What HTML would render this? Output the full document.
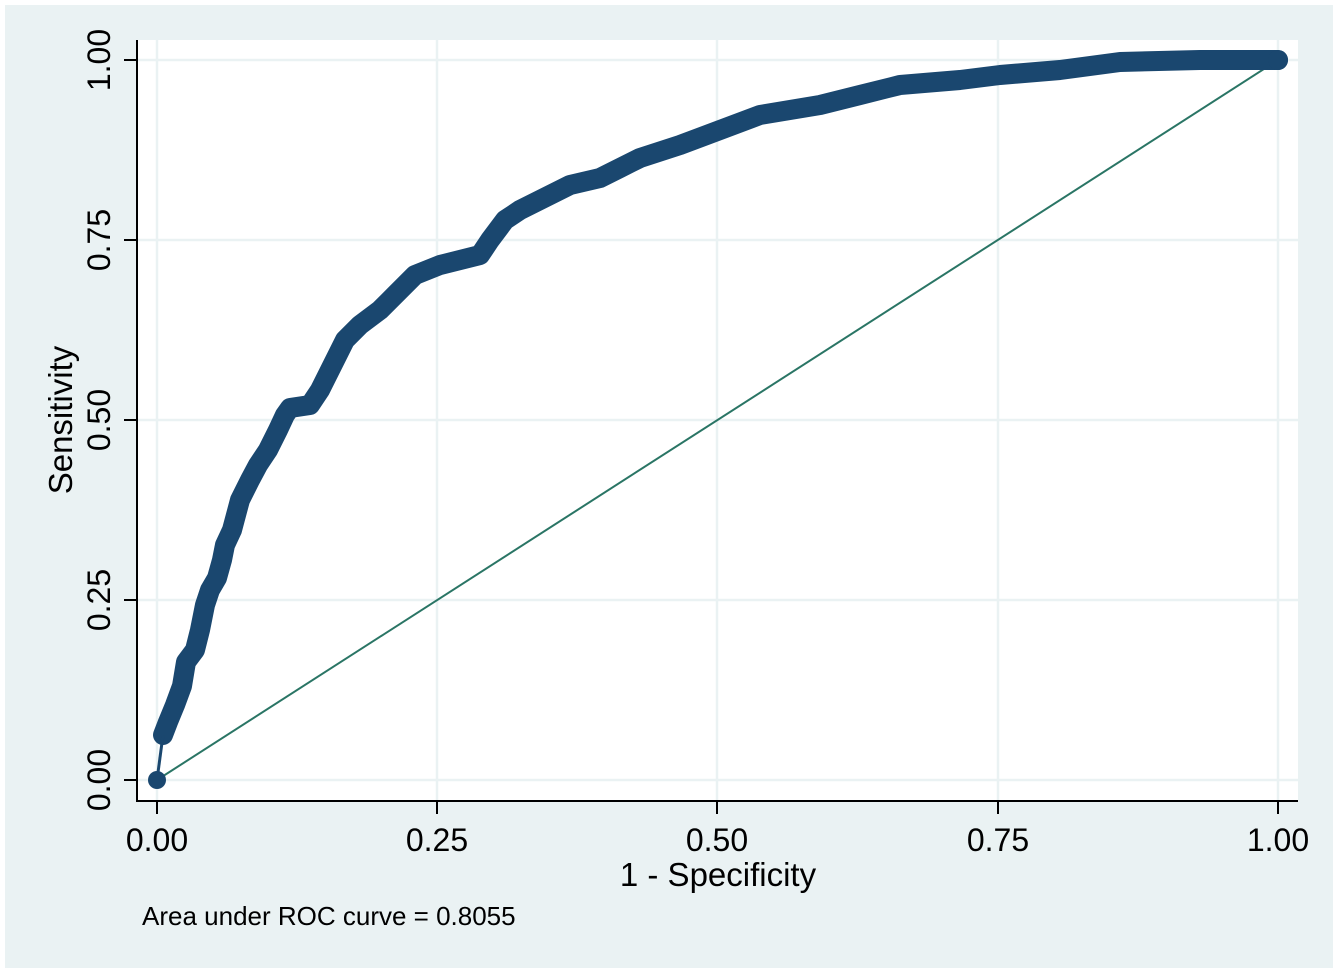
<!DOCTYPE html>
<html><head><style>body{margin:0;background:#fff}</style></head><body>
<svg width="1339" height="974" xmlns="http://www.w3.org/2000/svg" font-family="Liberation Sans, sans-serif">
<rect x="0" y="0" width="1339" height="974" fill="#fff"/>
<rect x="5" y="5" width="1328" height="963" fill="#eaf2f3"/>
<rect x="137" y="40" width="1161" height="761" fill="#fff"/>
<g stroke="#eaf2f3" stroke-width="2.5">
<line x1="137" y1="60" x2="1298" y2="60"/><line x1="137" y1="240" x2="1298" y2="240"/><line x1="137" y1="420" x2="1298" y2="420"/><line x1="137" y1="600" x2="1298" y2="600"/><line x1="137" y1="780" x2="1298" y2="780"/>
<line x1="157" y1="40" x2="157" y2="801"/><line x1="437" y1="40" x2="437" y2="801"/><line x1="717" y1="40" x2="717" y2="801"/><line x1="998" y1="40" x2="998" y2="801"/><line x1="1278" y1="40" x2="1278" y2="801"/>
</g>
<g stroke="#000" stroke-width="2">
<line x1="137" y1="40" x2="137" y2="801"/><line x1="136" y1="801" x2="1298" y2="801"/>
<line x1="124" y1="60" x2="137" y2="60"/><line x1="124" y1="240" x2="137" y2="240"/><line x1="124" y1="420" x2="137" y2="420"/><line x1="124" y1="600" x2="137" y2="600"/><line x1="124" y1="780" x2="137" y2="780"/>
<line x1="157" y1="801" x2="157" y2="814"/><line x1="437" y1="801" x2="437" y2="814"/><line x1="717" y1="801" x2="717" y2="814"/><line x1="998" y1="801" x2="998" y2="814"/><line x1="1278" y1="801" x2="1278" y2="814"/>
</g>
<line x1="157" y1="780" x2="1278" y2="60" stroke="#2a7565" stroke-width="2"/>
<polyline fill="none" stroke="#1a476f" stroke-width="20" stroke-linejoin="round" stroke-linecap="round" points="163,735 168,722 175,705 182,686 186,662 195,650 200,630 205,605 210,590 217,578 222,560 225,545 232,530 240,500 250,480 258,465 268,450 278,430 285,415 290,408 310,405 320,390 330,370 345,340 360,325 380,310 395,295 400,290 415,275 440,265 480,255 490,240 505,220 520,210 550,195 570,185 600,178 620,168 640,158 680,145 720,130 760,115 820,105 860,95 900,85 960,80 1000,75 1060,70 1120,62 1200,60 1278,60"/>
<polyline fill="none" stroke="#1a476f" stroke-width="3" points="157,780 163,735"/>
<circle cx="157" cy="780" r="9" fill="#1a476f"/>
<circle cx="1278" cy="60" r="10" fill="#1a476f"/>
<g font-size="32" fill="#000" text-anchor="middle">
<text x="157" y="851">0.00</text><text x="437" y="851">0.25</text><text x="717" y="851">0.50</text><text x="998" y="851">0.75</text><text x="1278" y="851">1.00</text>
<text x="718" y="886" font-size="33">1 - Specificity</text>
<text transform="translate(110,780) rotate(-90)">0.00</text>
<text transform="translate(110,600) rotate(-90)">0.25</text>
<text transform="translate(110,420) rotate(-90)">0.50</text>
<text transform="translate(110,240) rotate(-90)">0.75</text>
<text transform="translate(110,60) rotate(-90)">1.00</text>
<text transform="translate(72,420) rotate(-90)" font-size="33">Sensitivity</text>
</g>
<text x="142" y="925" font-size="26" fill="#000">Area under ROC curve = 0.8055</text>
</svg>
</body></html>
